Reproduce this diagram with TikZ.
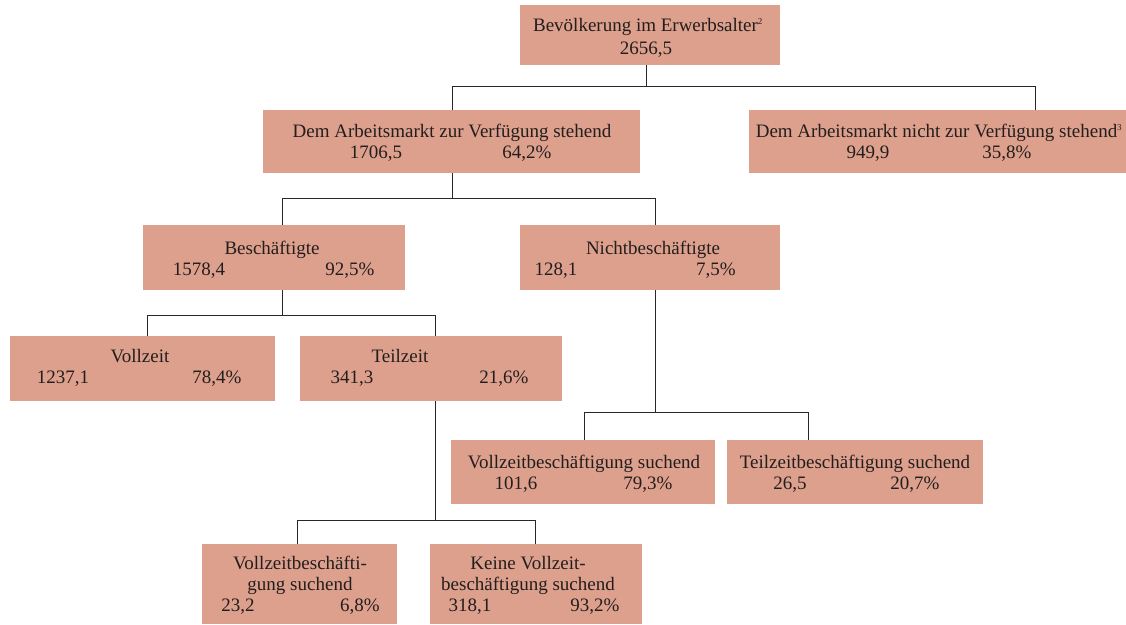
\documentclass[tikz,border=0pt]{standalone}
\usepackage{fontspec}
\setmainfont{Liberation Serif}
\definecolor{boxc}{RGB}{221,160,141}
\definecolor{linec}{RGB}{40,40,40}
\definecolor{txtc}{RGB}{35,30,30}
\begin{document}
\begin{tikzpicture}[x=1pt,y=-1pt,
  bx/.style={fill=boxc,draw=none,inner sep=0pt,anchor=north west},
  tx/.style={anchor=base,inner sep=0pt,text=txtc,font=\fontsize{19}{22}\selectfont},
  sup/.style={},
  conn/.style={draw=linec,line width=1pt}]
\useasboundingbox (0,0) rectangle (1126,624);
% boxes (x1,y1,w,h)
\node[bx,minimum width=260pt,minimum height=60pt] (top) at (520,5) {};
\node[bx,minimum width=377pt,minimum height=63pt] (avail) at (263,110) {};
\node[bx,minimum width=377pt,minimum height=63pt] (navail) at (749,110) {};
\node[bx,minimum width=262pt,minimum height=65pt] (besch) at (143,225) {};
\node[bx,minimum width=260pt,minimum height=65pt] (nbesch) at (520,225) {};
\node[bx,minimum width=265pt,minimum height=65pt] (voll) at (10,336) {};
\node[bx,minimum width=262pt,minimum height=65pt] (teil) at (300,336) {};
\node[bx,minimum width=264pt,minimum height=64pt] (vsuch) at (451,440) {};
\node[bx,minimum width=256pt,minimum height=64pt] (tsuch) at (727,440) {};
\node[bx,minimum width=195pt,minimum height=80pt] (tvs) at (202,544) {};
\node[bx,minimum width=212pt,minimum height=80pt] (tkv) at (430,544) {};
% texts
\node[tx] (t1) at (648,31) {Bevölkerung im Erwerbsalter\textsuperscript{\fontsize{9}{9}\selectfont 2}};
\node[tx] (t1a) at (646,54) {2656,5};
\node[tx] (t2) at (452,137) {Dem Arbeitsmarkt zur Verfügung stehend};
\node[tx] (t2a) at (376,158) {1706,5};
\node[tx] (t2b) at (527,158) {64,2\%};
\node[tx] (t3) at (939,137) {Dem Arbeitsmarkt nicht zur Verfügung stehend\textsuperscript{\fontsize{9}{9}\selectfont 3}};
\node[tx] (t3a) at (868,158) {949,9};
\node[tx] (t3b) at (1007,158) {35,8\%};
\node[tx] (t4) at (272,254) {Beschäftigte};
\node[tx] (t4a) at (199,275) {1578,4};
\node[tx] (t4b) at (350,275) {92,5\%};
\node[tx] (t5) at (653,254) {Nichtbeschäftigte};
\node[tx] (t5a) at (556,275) {128,1};
\node[tx] (t5b) at (716,275) {7,5\%};
\node[tx] (t6) at (140,362) {Vollzeit};
\node[tx] (t6a) at (63,383) {1237,1};
\node[tx] (t6b) at (217,383) {78,4\%};
\node[tx] (t7) at (400,362) {Teilzeit};
\node[tx] (t7a) at (352,383) {341,3};
\node[tx] (t7b) at (504,383) {21,6\%};
\node[tx] (t8) at (584,468) {Vollzeitbeschäftigung suchend};
\node[tx] (t8a) at (516,489) {101,6};
\node[tx] (t8b) at (648,489) {79,3\%};
\node[tx] (t9) at (855,468) {Teilzeitbeschäftigung suchend};
\node[tx] (t9a) at (790,489) {26,5};
\node[tx] (t9b) at (915,489) {20,7\%};
\node[tx] (t10) at (300,569) {Vollzeitbeschäfti-};
\node[tx] (t10b) at (300,590) {gung suchend};
\node[tx] (t10c) at (238,611) {23,2};
\node[tx] (t10d) at (360,611) {6,8\%};
\node[tx] (t11) at (528,569) {Keine Vollzeit-};
\node[tx] (t11b) at (528,590) {beschäftigung suchend};
\node[tx] (t11c) at (470,611) {318,1};
\node[tx] (t11d) at (595,611) {93,2\%};
% junction coordinates
\coordinate (j1) at (646,86);
\coordinate (j1l) at (452,86);
\coordinate (j1r) at (1035,86);
\coordinate (j2) at (452,198);
\coordinate (j2l) at (282,198);
\coordinate (j2r) at (655,198);
\coordinate (j3) at (282,315);
\coordinate (j3l) at (147,315);
\coordinate (j3r) at (435,315);
\coordinate (j4) at (655,412);
\coordinate (j4l) at (584,412);
\coordinate (j4r) at (808,412);
\coordinate (j5) at (435,520);
\coordinate (j5l) at (297,520);
\coordinate (j5r) at (535,520);
% connectors
\draw[conn] (j1 |- top.south) -- (j1);
\draw[conn] (j1l |- avail.north) -- (j1l) -- (j1r) -- (j1r |- navail.north);
\draw[conn] (j2 |- avail.south) -- (j2);
\draw[conn] (j2l |- besch.north) -- (j2l) -- (j2r) -- (j2r |- nbesch.north);
\draw[conn] (j3 |- besch.south) -- (j3);
\draw[conn] (j3l |- voll.north) -- (j3l) -- (j3r) -- (j3r |- teil.north);
\draw[conn] (j4 |- nbesch.south) -- (j4);
\draw[conn] (j4l |- vsuch.north) -- (j4l) -- (j4r) -- (j4r |- tsuch.north);
\draw[conn] (j5 |- teil.south) -- (j5);
\draw[conn] (j5l |- tvs.north) -- (j5l) -- (j5r) -- (j5r |- tkv.north);
\end{tikzpicture}
\end{document}
